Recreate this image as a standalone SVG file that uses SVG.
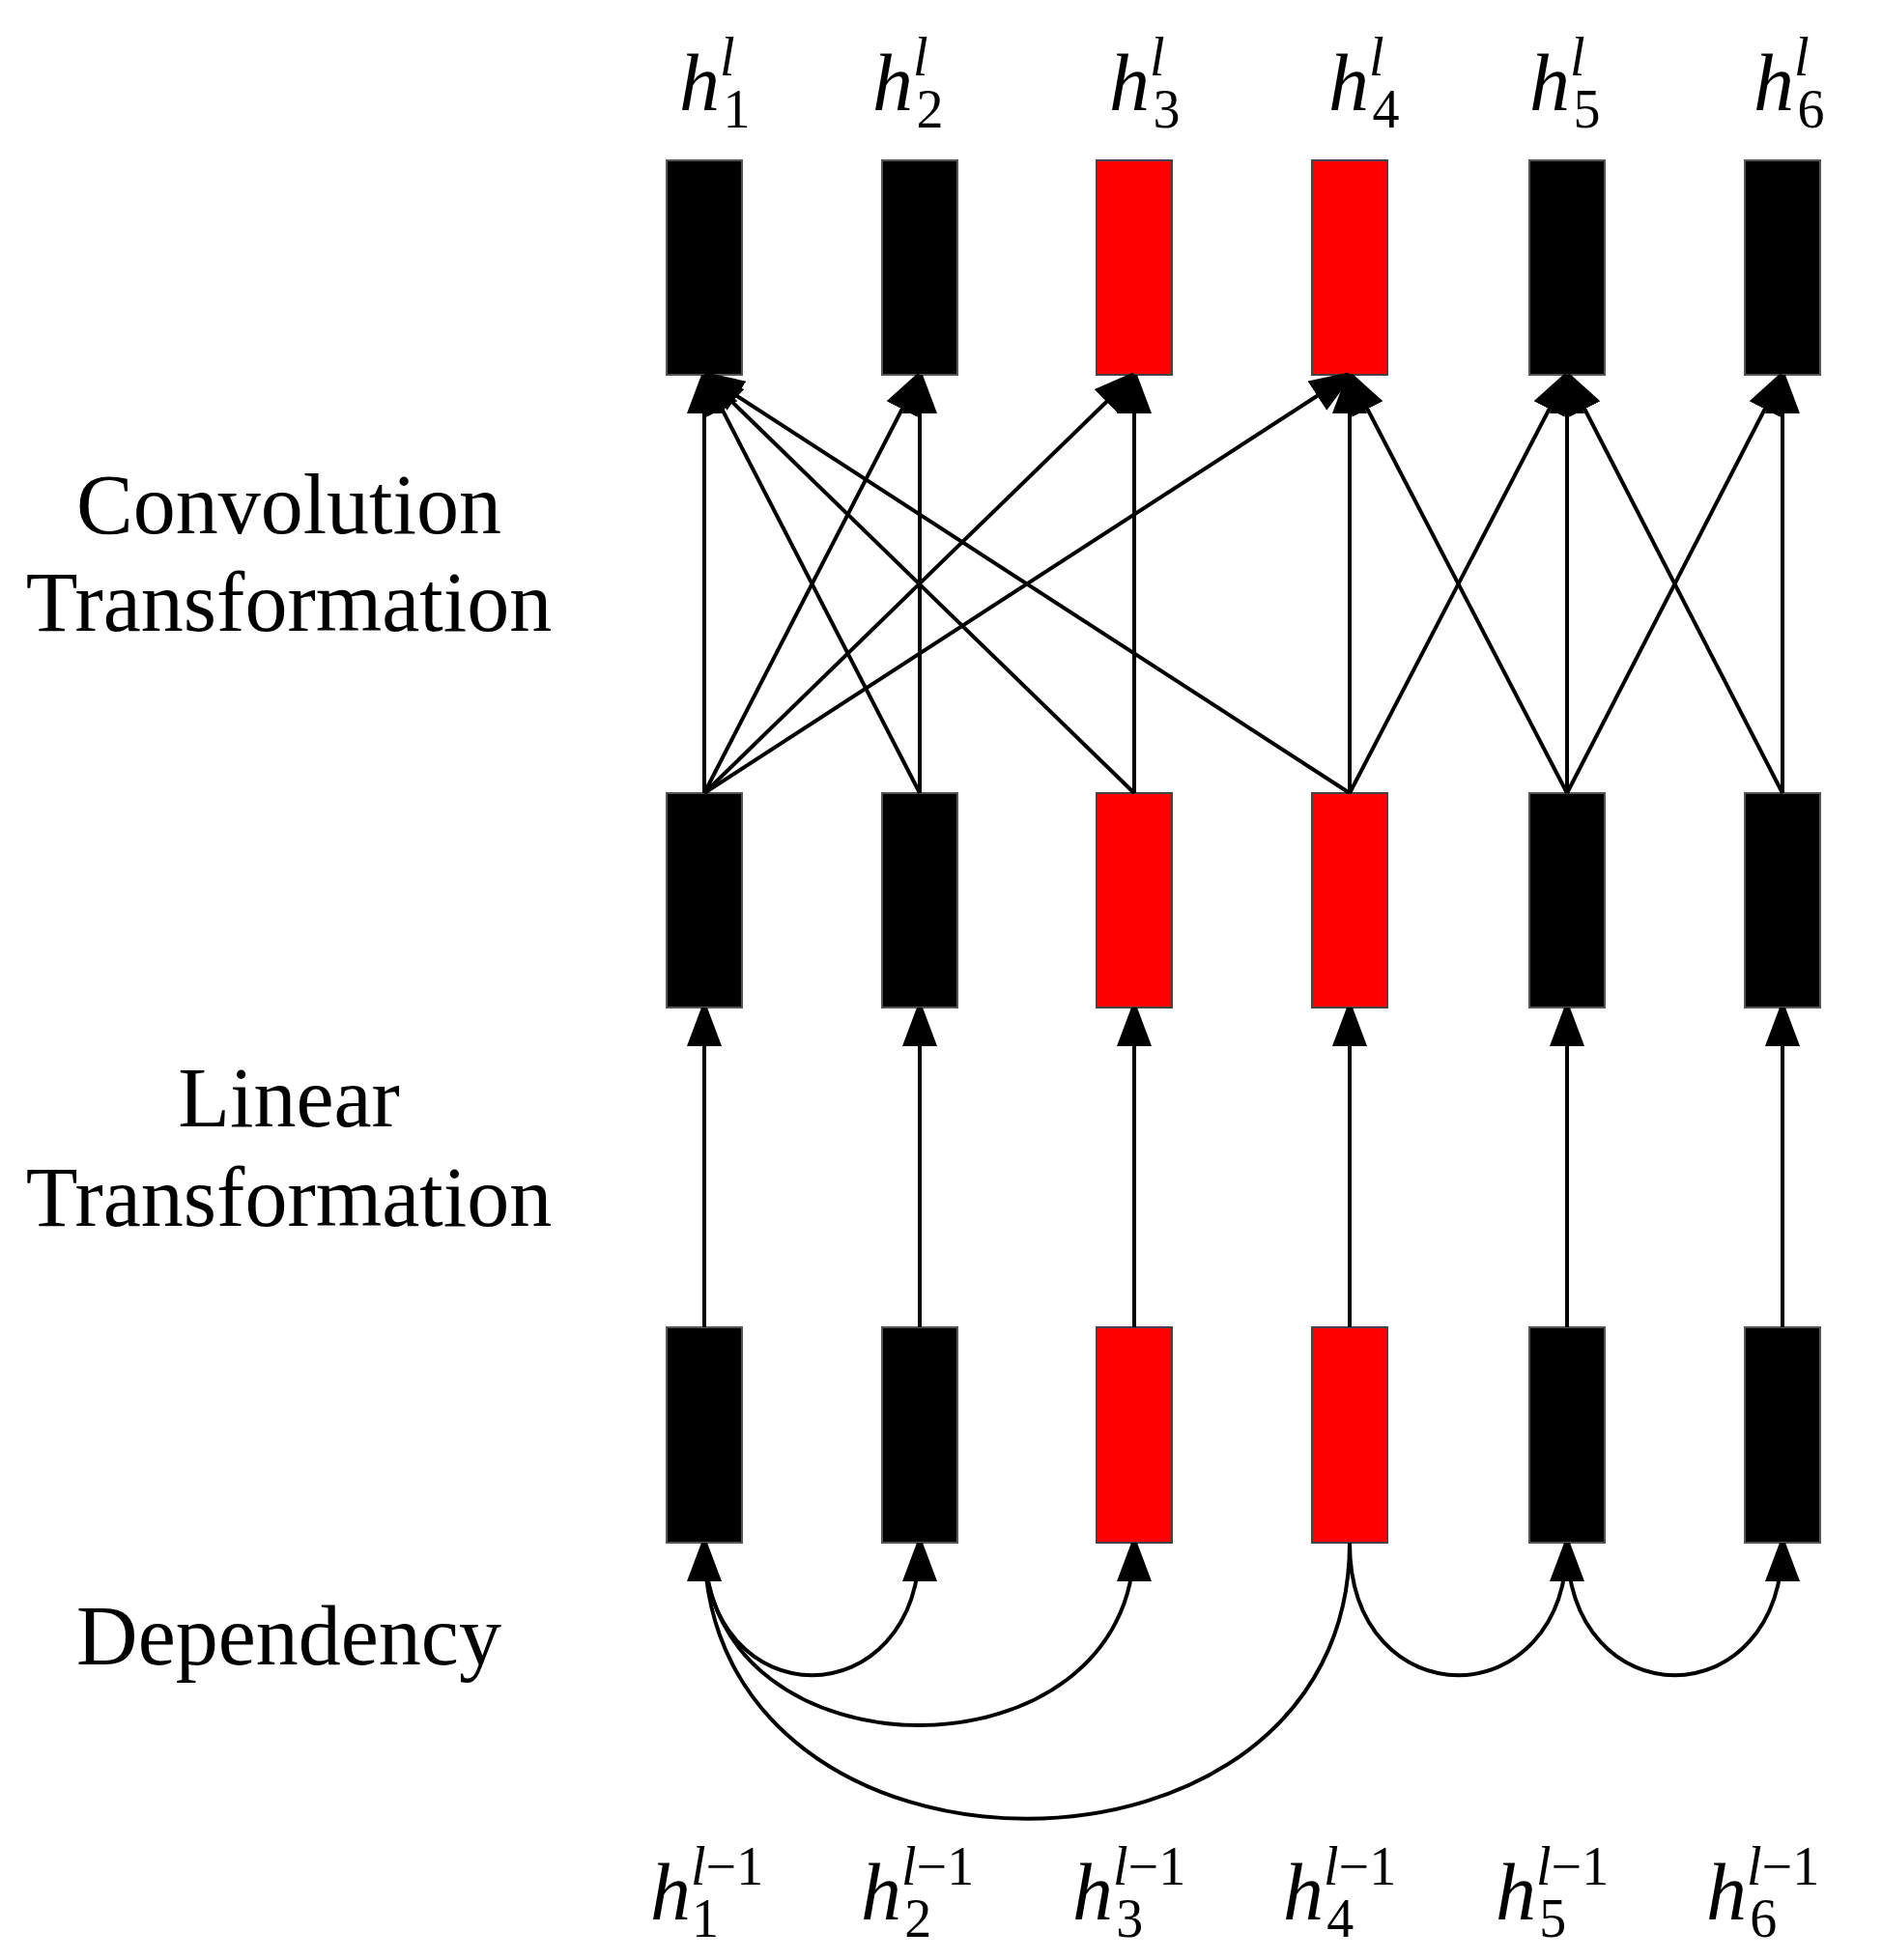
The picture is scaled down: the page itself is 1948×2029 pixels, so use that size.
<svg xmlns="http://www.w3.org/2000/svg" width="1948" height="2029" viewBox="0 0 1948 2029">
<defs>
<style>
.b{fill:#000;stroke:#555;stroke-width:2}
.r{fill:#f00;stroke:#444;stroke-width:2}
.e{stroke:#000;stroke-width:4;fill:none;marker-end:url(#a)}
.t{font-family:"Liberation Serif",serif;font-size:88px;text-anchor:middle}
.m{font-family:"Liberation Serif",serif;font-style:italic;font-size:84px}
.p{font-size:56px;font-style:italic}
.s{font-size:56px;font-style:normal}
</style>
<marker id="a" markerUnits="userSpaceOnUse" markerWidth="40" markerHeight="50" viewBox="0 0 40 48" refX="40" refY="18" orient="auto">
<path d="M0,0 L48,18 L0,36 Z" fill="#000"/>
</marker>
</defs>
<rect width="1948" height="2029" fill="#fff"/>
<g id="labels">
<text class="t" x="299" y="552">Convolution</text>
<text class="t" x="299" y="653">Transformation</text>
<text class="t" x="299" y="1166">Linear</text>
<text class="t" x="299" y="1269">Transformation</text>
<text class="t" x="299" y="1723">Dependency</text>
</g>
<g id="top-labels" class="m">
<text x="703" y="114">h<tspan class="p" dy="-36">l</tspan><tspan class="s" dx="-12" dy="54">1</tspan></text>
<text x="903" y="114">h<tspan class="p" dy="-36">l</tspan><tspan class="s" dx="-12" dy="54">2</tspan></text>
<text x="1148" y="114">h<tspan class="p" dy="-36">l</tspan><tspan class="s" dx="-12" dy="54">3</tspan></text>
<text x="1375" y="114">h<tspan class="p" dy="-36">l</tspan><tspan class="s" dx="-12" dy="54">4</tspan></text>
<text x="1583" y="114">h<tspan class="p" dy="-36">l</tspan><tspan class="s" dx="-12" dy="54">5</tspan></text>
<text x="1815" y="114">h<tspan class="p" dy="-36">l</tspan><tspan class="s" dx="-12" dy="54">6</tspan></text>
</g>
<g id="bottom-labels" class="m">
<text x="673" y="1987">h<tspan class="p" dy="-36">l</tspan><tspan class="s">−1</tspan><tspan class="s" dx="-72" dy="54">1</tspan></text>
<text x="891" y="1987">h<tspan class="p" dy="-36">l</tspan><tspan class="s">−1</tspan><tspan class="s" dx="-72" dy="54">2</tspan></text>
<text x="1110" y="1987">h<tspan class="p" dy="-36">l</tspan><tspan class="s">−1</tspan><tspan class="s" dx="-72" dy="54">3</tspan></text>
<text x="1328" y="1987">h<tspan class="p" dy="-36">l</tspan><tspan class="s">−1</tspan><tspan class="s" dx="-72" dy="54">4</tspan></text>
<text x="1548" y="1987">h<tspan class="p" dy="-36">l</tspan><tspan class="s">−1</tspan><tspan class="s" dx="-72" dy="54">5</tspan></text>
<text x="1766" y="1987">h<tspan class="p" dy="-36">l</tspan><tspan class="s">−1</tspan><tspan class="s" dx="-72" dy="54">6</tspan></text>
</g>
<g id="top-row">
<rect class="b" x="690" y="166" width="78" height="222"/>
<rect class="b" x="913" y="166" width="78" height="222"/>
<rect class="r" x="1135" y="166" width="78" height="222"/>
<rect class="r" x="1358" y="166" width="78" height="222"/>
<rect class="b" x="1583" y="166" width="78" height="222"/>
<rect class="b" x="1806" y="166" width="78" height="222"/>
</g>
<g id="middle-row">
<rect class="b" x="690" y="821" width="78" height="222"/>
<rect class="b" x="913" y="821" width="78" height="222"/>
<rect class="r" x="1135" y="821" width="78" height="222"/>
<rect class="r" x="1358" y="821" width="78" height="222"/>
<rect class="b" x="1583" y="821" width="78" height="222"/>
<rect class="b" x="1806" y="821" width="78" height="222"/>
</g>
<g id="bottom-row">
<rect class="b" x="690" y="1374" width="78" height="223"/>
<rect class="b" x="913" y="1374" width="78" height="223"/>
<rect class="r" x="1135" y="1374" width="78" height="223"/>
<rect class="r" x="1358" y="1374" width="78" height="223"/>
<rect class="b" x="1583" y="1374" width="78" height="223"/>
<rect class="b" x="1806" y="1374" width="78" height="223"/>
</g>
<g id="connectors">
<path class="e" d="M729,1374 V1043"/>
<path class="e" d="M952,1374 V1043"/>
<path class="e" d="M1174,1374 V1043"/>
<path class="e" d="M1397,1374 V1043"/>
<path class="e" d="M1622,1374 V1043"/>
<path class="e" d="M1845,1374 V1043"/>
<path class="e" d="M729,821 L729,388"/>
<path class="e" d="M729,821 L952,388"/>
<path class="e" d="M729,821 L1174,388"/>
<path class="e" d="M729,821 L1397,388"/>
<path class="e" d="M952,821 L729,388"/>
<path class="e" d="M952,821 L952,388"/>
<path class="e" d="M1174,821 L729,388"/>
<path class="e" d="M1174,821 L1174,388"/>
<path class="e" d="M1397,821 L729,388"/>
<path class="e" d="M1397,821 L1397,388"/>
<path class="e" d="M1397,821 L1622,388"/>
<path class="e" d="M1622,821 L1397,388"/>
<path class="e" d="M1622,821 L1622,388"/>
<path class="e" d="M1622,821 L1845,388"/>
<path class="e" d="M1845,821 L1622,388"/>
<path class="e" d="M1845,821 L1845,388"/>
<path class="e" d="M729,1597 C729,1780 952,1780 952,1597"/>
<path class="e" d="M729,1597 C729,1849 1174,1849 1174,1597"/>
<path class="e" d="M1397,1597 C1397,1978 729,1978 729,1597"/>
<path class="e" d="M1397,1597 C1397,1780 1622,1780 1622,1597"/>
<path class="e" d="M1622,1597 C1622,1780 1845,1780 1845,1597"/>
</g>
</svg>
